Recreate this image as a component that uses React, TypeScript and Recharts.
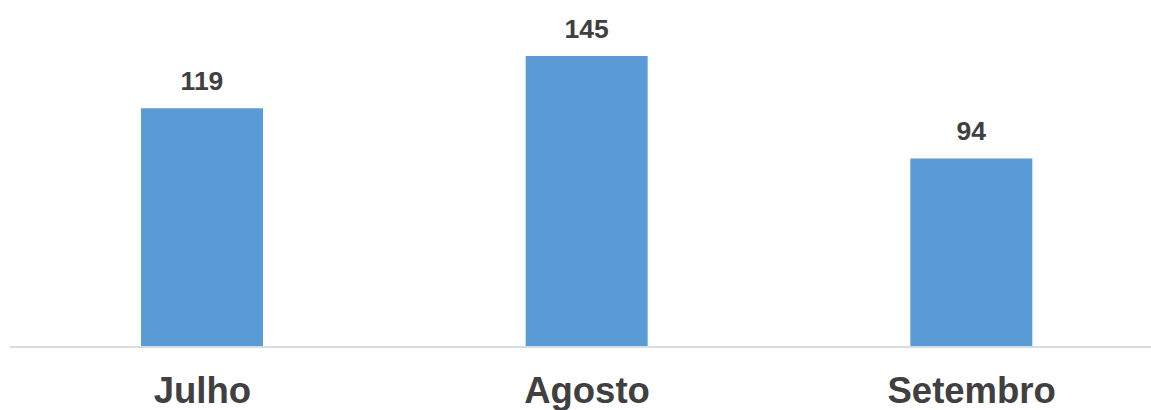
import React from 'react';
import { BarChart, Bar, XAxis, YAxis, LabelList } from 'recharts';

const months = ['Julho', 'Agosto', 'Setembro'];
const totals = [119, 145, 94];

const data = months.map((m, i) => ({ month: m, total: totals[i] }));

const FONT = '"Liberation Sans", Arial, sans-serif';

const MonthTick = (props: any) => {
  const { x, y, payload } = props;
  return (
    <text
      x={x}
      y={y + 48}
      textAnchor="middle"
      fontFamily={FONT}
      fontSize={36.5}
      fontWeight="bold"
      fill="#404040"
    >
      {payload.value}
    </text>
  );
};

export default function App() {
  return (
    <div style={{ position: 'absolute', left: 0, top: 0, width: 1151, height: 410, overflow: 'hidden', background: '#fff' }}>
      <BarChart
        width={1164}
        height={410}
        data={data}
        margin={{ top: 26, right: 0, left: 10, bottom: 0 }}
      >
        <XAxis
          dataKey="month"
          height={63}
          tickLine={false}
          axisLine={{ stroke: '#d5dce4', strokeWidth: 2 }}
          tick={<MonthTick />}
        />
        <YAxis hide domain={[0, 160]} />
        <Bar dataKey="total" fill="#5b9bd5" barSize={122} isAnimationActive={false}>
          <LabelList
            dataKey="total"
            position="top"
            offset={18}
            fontFamily={FONT}
            fontSize={26.5}
            fontWeight="bold"
            fill="#404040"
          />
        </Bar>
      </BarChart>
    </div>
  );
}
